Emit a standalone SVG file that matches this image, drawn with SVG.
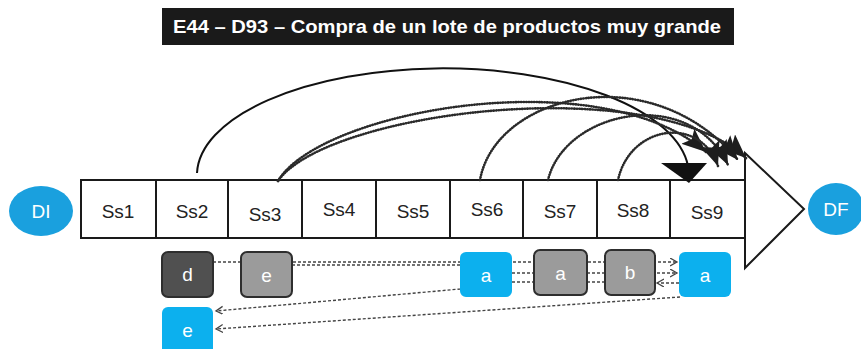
<svg xmlns="http://www.w3.org/2000/svg" width="861" height="349" viewBox="0 0 861 349">
<defs>
<style>
.cell{fill:#fff;stroke:#1a1a1a;stroke-width:2}
.lbl{font-family:"Liberation Sans",Arial,sans-serif;font-size:19px;fill:#222;text-anchor:middle}
.wl{font-family:"Liberation Sans",Arial,sans-serif;font-size:19px;fill:#fff;text-anchor:middle}
.blue{fill:#0cb0ee}
.dark{fill:#505050;stroke:#2e2e2e;stroke-width:2}
.grey{fill:#9b9b9b;stroke:#2e2e2e;stroke-width:2}
.ell{fill:#1aa0de}
.dot{fill:none;stroke:#2a2a2a;stroke-width:2.6;stroke-dasharray:0.4 2.2;stroke-linecap:round}
.dash{fill:none;stroke:#444;stroke-width:1.4;stroke-dasharray:3 2}
</style>
<marker id="tri" markerUnits="userSpaceOnUse" markerWidth="28" markerHeight="22" refX="24" refY="10" orient="auto">
<path d="M0,0 L24,10 L0,20 L5,10 Z" fill="#1e1e1e"/>
</marker>
<marker id="open" markerUnits="userSpaceOnUse" markerWidth="10" markerHeight="10" refX="7" refY="4" orient="auto">
<path d="M0,0 L7,4 L0,8" fill="none" stroke="#444" stroke-width="1.3"/>
</marker>
</defs>
<rect width="861" height="349" fill="#fff"/>
<g id="title">
<rect x="162" y="8" width="572" height="37" fill="#1a1a1a"/>
<text x="447" y="33" font-family="'Liberation Sans',Arial,sans-serif" font-size="19" font-weight="bold" fill="#fff" text-anchor="middle" textLength="548" lengthAdjust="spacingAndGlyphs">E44 – D93 – Compra de un lote de productos muy grande</text>
</g>
<g id="arrowhead-shape">
<polygon points="745,153 804,209 745,268" fill="#fff" stroke="#1a1a1a" stroke-width="2"/>
</g>
<g id="ss1"><rect class="cell" x="81" y="180" width="75" height="58"/><text class="lbl" x="118" y="218">Ss1</text></g>
<g id="ss2"><rect class="cell" x="156" y="180" width="72" height="58"/><text class="lbl" x="192" y="218">Ss2</text></g>
<g id="ss3"><rect class="cell" x="228" y="180" width="74" height="58"/><text class="lbl" x="265" y="221">Ss3</text></g>
<g id="ss4"><rect class="cell" x="302" y="180" width="74" height="58"/><text class="lbl" x="339" y="216">Ss4</text></g>
<g id="ss5"><rect class="cell" x="376" y="180" width="74" height="58"/><text class="lbl" x="413" y="218">Ss5</text></g>
<g id="ss6"><rect class="cell" x="450" y="180" width="73" height="58"/><text class="lbl" x="487" y="216">Ss6</text></g>
<g id="ss7"><rect class="cell" x="523" y="180" width="74" height="58"/><text class="lbl" x="560" y="218">Ss7</text></g>
<g id="ss8"><rect class="cell" x="597" y="180" width="73" height="58"/><text class="lbl" x="633" y="217">Ss8</text></g>
<g id="ss9"><rect class="cell" x="670" y="180" width="75" height="58"/><text class="lbl" x="707" y="219">Ss9</text></g>
<g id="DI"><ellipse class="ell" cx="41" cy="211" rx="32" ry="25"/><text class="wl" x="41" y="218">DI</text></g>
<g id="DF"><ellipse class="ell" cx="836" cy="209" rx="28" ry="26"/><text class="wl" x="836" y="216">DF</text></g>
<g id="connectors">
<path d="M197,173 A246,107 0 0 1 688,166" fill="none" stroke="#111" stroke-width="2"/>
<polygon points="661,163 707,163 689,183" fill="#111"/>
<path class="dot" d="M278,181 C320,110 600,60 706,152" marker-end="url(#tri)"/>
<path class="dot" d="M278,181 C325,112 650,70 746,158" marker-end="url(#tri)"/>
<path class="dot" d="M480,180 C495,95 650,55 738,160" marker-end="url(#tri)"/>
<path class="dot" d="M548,180 C565,110 690,85 728,165" marker-end="url(#tri)"/>
<path class="dot" d="M618,180 C630,125 700,115 718,166" marker-end="url(#tri)"/>
<path class="dash" d="M213,262 L677,262" marker-end="url(#open)"/>
<path class="dash" d="M292,265 L460,265"/>
<path class="dash" d="M512,273 L677,273" marker-end="url(#open)"/>
<path class="dash" d="M679,283 L657,283" marker-end="url(#open)"/>
<path class="dash" d="M605,282 L512,282 L460,289 L216,311" marker-end="url(#open)"/>
<path class="dash" d="M680,297 L216,329" marker-end="url(#open)"/>
</g>
<g id="box-d"><rect class="dark" x="162" y="252" width="51" height="45" rx="6"/><text class="wl" x="187.5" y="281">d</text></g>
<g id="box-e1"><rect class="grey" x="241" y="252" width="51" height="45" rx="6"/><text class="wl" x="266.5" y="282">e</text></g>
<g id="box-a1"><rect class="blue" x="460" y="252" width="52" height="45" rx="6"/><text class="wl" x="486" y="282">a</text></g>
<g id="box-a2"><rect class="grey" x="534" y="250" width="53" height="45" rx="6"/><text class="wl" x="560.5" y="280">a</text></g>
<g id="box-b"><rect class="grey" x="605" y="250" width="50" height="45" rx="6"/><text class="wl" x="630" y="279">b</text></g>
<g id="box-a3"><rect class="blue" x="679" y="252" width="52" height="45" rx="6"/><text class="wl" x="705" y="282">a</text></g>
<g id="box-e2"><rect class="blue" x="162" y="307" width="51" height="48" rx="6"/><text class="wl" x="187.5" y="337">e</text></g>
</svg>
